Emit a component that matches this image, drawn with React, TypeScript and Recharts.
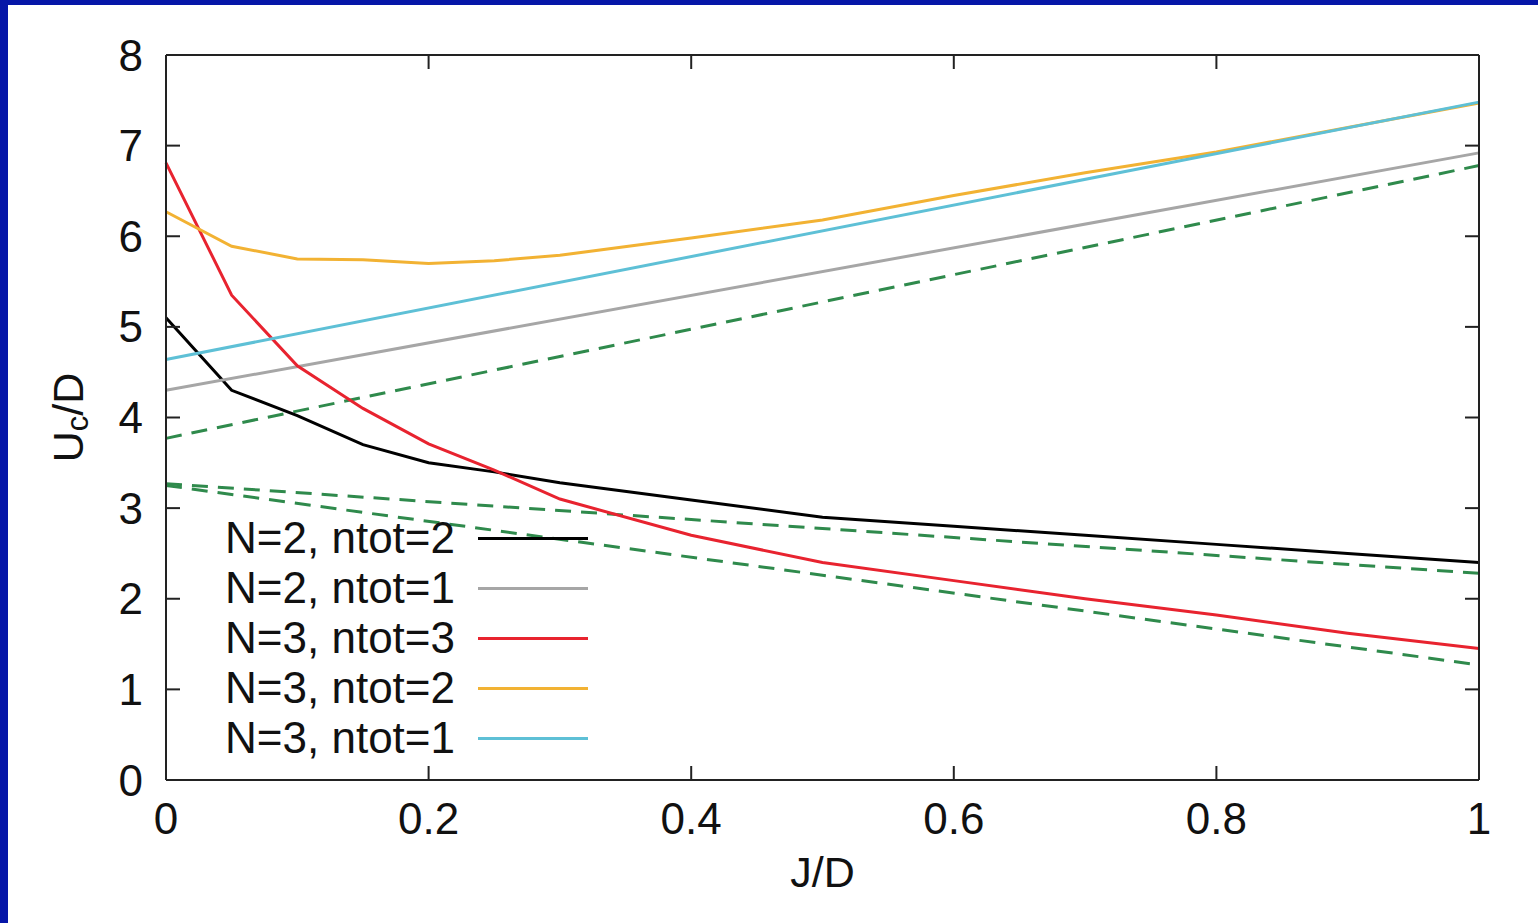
import React from 'react';
import { LineChart, Line, XAxis, YAxis } from 'recharts';

// J/D sample points for the computed curves
const jCurve = [0, 0.05, 0.1, 0.15, 0.2, 0.25, 0.3, 0.4, 0.5, 0.6, 0.7, 0.8, 0.9, 1];
const n2t2 = [5.1, 4.3, 4.02, 3.7, 3.5, 3.4, 3.28, 3.09, 2.9, 2.8, 2.7, 2.6, 2.5, 2.4];
const n3t3 = [6.81, 5.35, 4.57, 4.1, 3.71, 3.42, 3.1, 2.7, 2.4, 2.2, 2.0, 1.82, 1.62, 1.45];
const n3t2 = [6.27, 5.89, 5.75, 5.74, 5.7, 5.73, 5.79, 5.98, 6.18, 6.45, 6.7, 6.93, 7.2, 7.47];

// straight lines: values at J/D = 0 and 1
const jEnds = [0, 1];
const n2t1 = [4.3, 6.92];
const n3t1 = [4.64, 7.48];
const fitUp = [3.77, 6.78];
const fitMid = [3.27, 2.28];
const fitLow = [3.25, 1.27];

const xTicks = [0, 0.2, 0.4, 0.6, 0.8, 1];
const yTicks = [0, 1, 2, 3, 4, 5, 6, 7, 8];

const toPoints = (xs: number[], ys: number[]) => xs.map((x, i) => ({ x, y: ys[i] }));

const series = [
  { name: 'N=2, ntot=2', data: toPoints(jCurve, n2t2), color: '#000000' },
  { name: 'N=2, ntot=1', data: toPoints(jEnds, n2t1), color: '#a6a6a6' },
  { name: 'N=3, ntot=3', data: toPoints(jCurve, n3t3), color: '#e8232f' },
  { name: 'N=3, ntot=2', data: toPoints(jCurve, n3t2), color: '#f2b233' },
  { name: 'N=3, ntot=1', data: toPoints(jEnds, n3t1), color: '#5ec0d6' },
];

const fits = [fitUp, fitMid, fitLow].map(v => toPoints(jEnds, v));

const FONT = '"Liberation Sans", Arial, sans-serif';
const AXIS = '#222';

const YLabel = (props: any) => {
  const vb = props.viewBox || { x: 0, y: 55, width: 166, height: 725 };
  const cx = vb.x + 68;
  const cy = vb.y + vb.height / 2;
  return (
    <text
      transform={`translate(${cx},${cy}) rotate(-90)`}
      textAnchor="middle"
      dominantBaseline="central"
      fontFamily={FONT}
      fontSize={43}
      fill="#111"
    >
      <tspan>U</tspan>
      <tspan dy={9} fontSize={31}>c</tspan>
      <tspan dy={-9}>/D</tspan>
    </text>
  );
};

// mirrored axes: tick marks only, no text
const NoText = () => <g />;

export default function App() {
  return (
    <div style={{ position: 'fixed', left: 0, top: 0, width: 1538, height: 923, background: '#fff', overflow: 'hidden' }}>
      <div style={{ position: 'absolute', left: 0, top: 0, width: 1538, height: 5, background: '#0616a8' }} />
      <div style={{ position: 'absolute', left: 0, top: 0, width: 8, height: 923, background: '#0616a8' }} />

      <LineChart
        width={1538}
        height={923}
        margin={{ top: 54, right: 58, bottom: 0, left: 0 }}
        style={{ position: 'absolute', left: 0, top: 0 }}
      >
        <XAxis
          xAxisId="b"
          dataKey="x"
          type="number"
          domain={[0, 1]}
          ticks={xTicks}
          height={143}
          tickSize={-14}
          tickMargin={37}
          axisLine={{ stroke: AXIS, strokeWidth: 2 }}
          tickLine={{ stroke: AXIS, strokeWidth: 2 }}
          tick={{ fill: '#111', fontSize: 44, fontFamily: FONT }}
          label={{ value: 'J/D', position: 'insideBottom', offset: 36, fill: '#111', fontSize: 43, fontFamily: FONT }}
        />
        <XAxis
          xAxisId="t"
          dataKey="x"
          type="number"
          orientation="top"
          domain={[0, 1]}
          ticks={xTicks}
          height={1}
          tickSize={-14}
          interval={0}
          axisLine={{ stroke: AXIS, strokeWidth: 2 }}
          tickLine={{ stroke: AXIS, strokeWidth: 2 }}
          tick={NoText}
        />
        <YAxis
          yAxisId="l"
          type="number"
          domain={[0, 8]}
          ticks={yTicks}
          width={166}
          tickSize={-14}
          tickMargin={37}
          axisLine={{ stroke: AXIS, strokeWidth: 2 }}
          tickLine={{ stroke: AXIS, strokeWidth: 2 }}
          tick={{ fill: '#111', fontSize: 44, fontFamily: FONT }}
          label={<YLabel />}
        />
        <YAxis
          yAxisId="r"
          type="number"
          orientation="right"
          domain={[0, 8]}
          ticks={yTicks}
          width={1}
          tickSize={-14}
          interval={0}
          axisLine={{ stroke: AXIS, strokeWidth: 2 }}
          tickLine={{ stroke: AXIS, strokeWidth: 2 }}
          tick={NoText}
        />

        {/* the dashed guide lines sit on the mirrored top/right axes (same domains) */}
        {fits.map((d, i) => (
          <Line
            key={`fit-${i}`}
            xAxisId="t"
            yAxisId="r"
            data={d}
            dataKey="y"
            type="linear"
            stroke="#2f8a4c"
            strokeWidth={3}
            strokeDasharray="16 10"
            dot={false}
            isAnimationActive={false}
          />
        ))}
        {series.map(s => (
          <Line
            key={s.name}
            xAxisId="b"
            yAxisId="l"
            data={s.data}
            dataKey="y"
            name={s.name}
            type="linear"
            stroke={s.color}
            strokeWidth={3}
            dot={false}
            isAnimationActive={false}
          />
        ))}
      </LineChart>

      {/* legend in the lower left of the plot */}
      <div style={{ position: 'absolute', left: 180, top: 513, fontFamily: FONT, fontSize: 44, color: '#111' }}>
        {series.map(s => (
          <div key={s.name} style={{ display: 'flex', alignItems: 'center', height: 50, lineHeight: '50px' }}>
            <span style={{ width: 275, textAlign: 'right', whiteSpace: 'nowrap' }}>{s.name}</span>
            <span style={{ display: 'inline-block', width: 110, height: 3, marginLeft: 23, background: s.color }} />
          </div>
        ))}
      </div>
    </div>
  );
}
